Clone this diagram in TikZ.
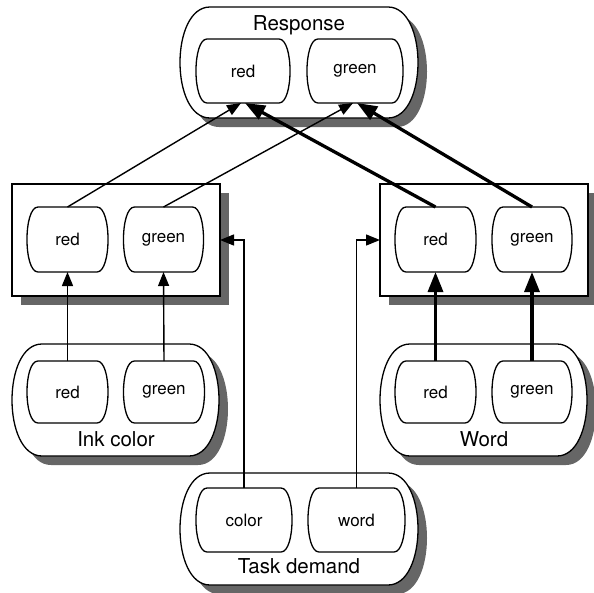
\documentclass[tikz,border=0pt]{standalone}
\usepackage{fontspec}
\setmainfont{TeX Gyre Heros}
\usetikzlibrary{arrows.meta,calc}
\definecolor{shadowgray}{gray}{0.4}
\newcommand\barrelpath[4]{%
  \path[#1] ($(#2.north west)+(#3,0)$) -- ($(#2.north east)+(-#3,0)$)
   .. controls ($(#2.north east)+(#4,0)$) and ($(#2.south east)+(#4,0)$) .. ($(#2.south east)+(-#3,0)$)
   -- ($(#2.south west)+(#3,0)$)
   .. controls ($(#2.south west)+(-#4,0)$) and ($(#2.north west)+(-#4,0)$) .. cycle;}
\begin{document}
\begin{tikzpicture}[x=1pt,y=-1pt,
  boxline/.style={draw=black,line width=1.3pt},
  place/.style={inner sep=0pt,outer sep=0pt,draw=none},
  unitnode/.style={place,font=\fontsize{17}{20}\selectfont},
  grouplabel/.style={inner sep=0pt,anchor=base,font=\fontsize{20.5}{24}\selectfont},
  shadowed/.style={fill=shadowgray,transform canvas={shift={(9pt,-9pt)}}},
  thinarrow/.style={line width=1.4pt,-{Triangle[length=14pt,width=11pt]}},
  thickarrow/.style={line width=3.3pt,-{Triangle[length=20pt,width=15pt]}}]
\useasboundingbox (0,0) rectangle (594,592);
% outer groups
\node[place,minimum width=238pt,minimum height=111pt] (resp) at (299,62.5) {};
\node[place,minimum width=208pt,minimum height=112pt] (lmid) at (116,240) {};
\node[place,minimum width=208pt,minimum height=112pt] (rmid) at (484,240) {};
\node[place,minimum width=207pt,minimum height=112pt] (ink) at (115.5,400) {};
\node[place,minimum width=207pt,minimum height=112pt] (word) at (483.5,400) {};
\node[place,minimum width=238pt,minimum height=112pt] (task) at (299,529) {};
% shadows
\barrelpath{shadowed}{resp}{30}{10}
\barrelpath{shadowed}{ink}{30}{10}
\barrelpath{shadowed}{word}{30}{10}
\barrelpath{shadowed}{task}{30}{10}
\path[shadowed] (lmid.north west) rectangle (lmid.south east);
\path[shadowed] (rmid.north west) rectangle (rmid.south east);
% outer shapes
\barrelpath{boxline,fill=white}{resp}{30}{10}
\barrelpath{boxline,fill=white}{ink}{30}{10}
\barrelpath{boxline,fill=white}{word}{30}{10}
\barrelpath{boxline,fill=white}{task}{30}{10}
\draw[boxline,fill=white] (lmid.north west) rectangle (lmid.south east);
\draw[boxline,fill=white] (rmid.north west) rectangle (rmid.south east);
% labels
\node[grouplabel] (resplabel) at (299,30) {Response};
\node[grouplabel] (inklabel) at (116,446) {Ink color};
\node[grouplabel] (wordlabel) at (484,446) {Word};
\node[grouplabel] (tasklabel) at (299,573) {Task demand};
% units
\node[unitnode,minimum width=94pt,minimum height=64pt] (rr) at (243,71) {red};
\node[unitnode,minimum width=96pt,minimum height=64pt] (rg) at (355,71) {green};
\node[unitnode,minimum width=81pt,minimum height=65pt] (lred) at (67.5,239.5) {red};
\node[unitnode,minimum width=80pt,minimum height=65pt] (lgreen) at (163.5,239.5) {green};
\node[unitnode,minimum width=81pt,minimum height=65pt] (rred) at (435.5,239.5) {red};
\node[unitnode,minimum width=80pt,minimum height=65pt] (rgreen) at (532,239.5) {green};
\node[unitnode,minimum width=81pt,minimum height=62pt] (ired) at (67.5,392) {red};
\node[unitnode,minimum width=81pt,minimum height=62pt] (igreen) at (164,392) {green};
\node[unitnode,minimum width=81pt,minimum height=62pt] (wred) at (435.5,392) {red};
\node[unitnode,minimum width=80pt,minimum height=62pt] (wgreen) at (532,392) {green};
\node[unitnode,minimum width=96pt,minimum height=64pt] (tcolor) at (244,520) {color};
\node[unitnode,minimum width=97pt,minimum height=64pt] (tword) at (356.5,520) {word};
\foreach \n in {rr,rg,lred,lgreen,rred,rgreen,ired,igreen,wred,wgreen,tcolor,tword}{
  \barrelpath{boxline}{\n}{11}{3.7}
}
% connections
\draw[thinarrow] (lred.north) -- ([xshift=-2pt]rr.south);
\draw[thinarrow] (lgreen.north) -- ([xshift=-2pt]rg.south);
\draw[thickarrow] (rred.north) -- ([xshift=2pt]rr.south);
\draw[thickarrow] (rgreen.north) -- ([xshift=2pt]rg.south);
\draw[thinarrow] (ired.north) -- (lred.south);
\draw[thinarrow] (igreen.north) -- (lgreen.south);
\draw[thickarrow] (wred.north) -- (rred.south);
\draw[thickarrow] (wgreen.north) -- (rgreen.south);
\draw[thinarrow] (tcolor.north) |- (lmid.east);
\draw[thinarrow] (tword.north) |- (rmid.west);
\end{tikzpicture}
\end{document}
